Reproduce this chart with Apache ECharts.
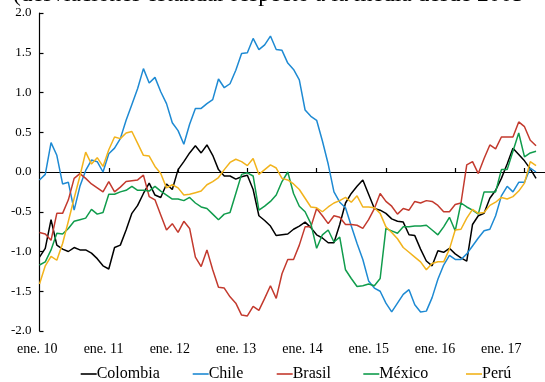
<!DOCTYPE html>
<html>
<head>
<meta charset="utf-8">
<script src="https://cdn.jsdelivr.net/npm/echarts@6/dist/echarts.min.js"></script>
<style>
  html, body { margin: 0; padding: 0; background: #fff; }
  #chart { width: 545px; height: 382px; }
</style>
</head>
<body>
<div id="chart"></div>
<script>
// Monthly indices, ene. 2010 .. mar. 2017 (87 months)
const tickLabels = ['ene. 10', 'ene. 11', 'ene. 12', 'ene. 13', 'ene. 14', 'ene. 15', 'ene. 16', 'ene. 17'];
const seriesNames = ['Colombia', 'Chile', 'Brasil', 'México', 'Perú'];

const colombia = [
  -1.07, -0.96, -0.60, -0.92, -0.97, -1.00, -0.95, -0.98, -0.98, -1.02, -1.09, -1.18,
  -1.22, -0.95, -0.92, -0.73, -0.52, -0.42, -0.27, -0.14, -0.29, -0.32, -0.15, -0.22,
  0.03, 0.13, 0.24, 0.33, 0.24, 0.34, 0.21, 0.03, -0.05, -0.05, -0.09, -0.06,
  -0.04, -0.22, -0.55, -0.61, -0.68, -0.80, -0.79, -0.78, -0.72, -0.68, -0.63, -0.70,
  -0.79, -0.83, -0.89, -0.89, -0.66, -0.39, -0.27, -0.18, -0.10, -0.28, -0.46, -0.48,
  -0.52, -0.59, -0.62, -0.63, -0.79, -0.80, -0.97, -1.12, -1.18, -0.99, -1.01, -0.96,
  -1.03, -1.08, -1.12, -0.66, -0.55, -0.52, -0.33, -0.23, -0.08, 0.10, 0.30, 0.22,
  0.14, 0.04, -0.08
];
const chile = [
  -0.10, -0.03, 0.37, 0.21, -0.15, -0.13, -0.48, -0.18, 0.02, 0.15, 0.13, 0.00,
  0.23, 0.30, 0.42, 0.65, 0.85, 1.05, 1.30, 1.12, 1.19, 1.01, 0.86, 0.62,
  0.52, 0.35, 0.60, 0.80, 0.80, 0.86, 0.91, 1.17, 1.06, 1.11, 1.28, 1.49,
  1.50, 1.68, 1.54, 1.60, 1.71, 1.54, 1.53, 1.37, 1.29, 1.16, 0.78, 0.70,
  0.65, 0.39, 0.10, -0.25, -0.38, -0.45, -0.68, -0.90, -1.10, -1.37, -1.46, -1.50,
  -1.65, -1.76, -1.65, -1.54, -1.48, -1.67, -1.76, -1.75, -1.58, -1.35, -1.17, -1.05,
  -1.10, -1.10, -1.03, -0.93, -0.83, -0.74, -0.72, -0.55, -0.30, -0.18, -0.25, -0.13,
  -0.13, 0.05, 0.00
];
const brasil = [
  -0.76, -0.78, -0.86, -0.52, -0.52, -0.35, -0.08, -0.02, -0.08, -0.15, -0.20, -0.25,
  -0.12, -0.25, -0.19, -0.12, -0.11, -0.10, -0.04, -0.31, -0.35, -0.54, -0.73, -0.65,
  -0.76, -0.62, -0.71, -1.07, -1.19, -0.98, -1.23, -1.45, -1.46, -1.57, -1.65, -1.80,
  -1.81, -1.69, -1.74, -1.59, -1.43, -1.59, -1.28, -1.10, -1.10, -0.92, -0.69, -0.69,
  -0.46, -0.55, -0.65, -0.55, -0.57, -0.66, -0.66, -0.67, -0.71, -0.60, -0.46, -0.27,
  -0.37, -0.43, -0.53, -0.46, -0.48, -0.37, -0.39, -0.36, -0.37, -0.42, -0.50, -0.50,
  -0.41, -0.39, 0.09, 0.13, -0.02, 0.17, 0.34, 0.29, 0.44, 0.44, 0.44, 0.63,
  0.57, 0.40, 0.33
];
const mexico = [
  -1.17, -1.13, -0.98, -0.77, -0.78, -0.71, -0.62, -0.60, -0.58, -0.47, -0.53, -0.51,
  -0.28, -0.28, -0.25, -0.23, -0.18, -0.23, -0.23, -0.24, -0.18, -0.24, -0.29, -0.34,
  -0.34, -0.36, -0.32, -0.39, -0.44, -0.46, -0.53, -0.60, -0.53, -0.51, -0.27, -0.03,
  -0.01, -0.05, -0.48, -0.43, -0.37, -0.29, -0.12, 0.00, -0.27, -0.43, -0.50, -0.65,
  -0.96, -0.79, -0.73, -0.88, -0.82, -1.23, -1.34, -1.44, -1.43, -1.41, -1.43, -1.34,
  -0.71, -0.74, -0.77, -0.69, -0.69, -0.68, -0.68, -0.67, -0.73, -0.79, -0.69, -0.57,
  -0.74, -0.39, -0.44, -0.48, -0.53, -0.25, -0.25, -0.25, 0.03, 0.03, 0.26, 0.49,
  0.19, 0.24, 0.26
];
const peru = [
  -1.41, -1.18, -1.06, -1.11, -0.90, -0.62, -0.33, -0.05, 0.25, 0.10, 0.18, 0.07,
  0.28, 0.44, 0.42, 0.49, 0.51, 0.36, 0.21, 0.20, 0.07, -0.02, -0.20, -0.16,
  -0.20, -0.29, -0.28, -0.26, -0.24, -0.16, -0.12, -0.07, 0.03, 0.12, 0.16, 0.13,
  0.08, 0.17, -0.03, 0.03, 0.09, 0.05, -0.08, -0.10, -0.15, -0.22, -0.33, -0.44,
  -0.45, -0.50, -0.44, -0.39, -0.36, -0.32, -0.38, -0.30, -0.44, -0.44, -0.45, -0.52,
  -0.69, -0.76, -0.84, -0.95, -1.01, -1.07, -1.13, -1.23, -1.15, -1.13, -1.13, -0.97,
  -0.73, -0.72, -0.58, -0.47, -0.52, -0.51, -0.42, -0.38, -0.32, -0.34, -0.31, -0.24,
  -0.14, 0.13, 0.08
];

const allValues = [colombia, chile, brasil, mexico, peru];
const colors = ['#000000', '#1E8AD3', '#C33A2E', '#109C4C', '#F2B31C'];

// Year ticks every 12 months; labels are spread slightly tighter than the ticks
const yearTicks = [12, 24, 36, 48, 60, 72, 84];
const labelStep = 11.48;
const labelValues = tickLabels.map((_, k) => k * labelStep);

// Left edge of each legend entry
const legendLefts = [80.7, 192.7, 276.7, 363.3, 466];

const serif = '"Liberation Serif", "Times New Roman", serif';

const chart = echarts.init(document.getElementById('chart'), null, { renderer: 'canvas' });

chart.setOption({
  animation: false,
  backgroundColor: '#ffffff',
  color: colors,
  grid: { left: 39.5, top: 13, width: 505.2, height: 318, containLabel: false },
  graphic: [{
    type: 'text',
    left: 13,
    top: -17,
    style: {
      text: '(desviaciones estándar respecto a la media desde 2003',
      font: '23.5px ' + serif,
      fill: '#000'
    }
  }],
  legend: seriesNames.map((name, s) => ({
    data: [name],
    left: legendLefts[s],
    top: 366,
    padding: 0,
    icon: 'rect',
    itemWidth: 16,
    itemHeight: 1.6,
    textStyle: { fontFamily: serif, fontSize: 16, color: '#000', padding: [0, 0, 0, -5] }
  })),
  xAxis: [
    {
      type: 'value',
      min: 0,
      max: 87.5,
      axisLine: { onZero: true, lineStyle: { color: '#000', width: 1.2 } },
      axisTick: { show: true, inside: true, length: 4, customValues: yearTicks, lineStyle: { color: '#000', width: 1.2 } },
      axisLabel: { show: false },
      splitLine: { show: false }
    },
    {
      type: 'value',
      min: 0,
      max: 87.5,
      position: 'bottom',
      axisLine: { show: false, onZero: false },
      axisTick: { show: false },
      splitLine: { show: false },
      axisLabel: {
        customValues: labelValues,
        margin: 11,
        fontFamily: serif,
        fontSize: 14,
        color: '#000',
        padding: [0, 4.4, 0, 0],
        formatter: (v) => tickLabels[Math.round(v / labelStep)]
      }
    }
  ],
  yAxis: {
    type: 'value',
    min: -2,
    max: 2,
    interval: 0.5,
    axisLine: { show: true, lineStyle: { color: '#000', width: 1.2 } },
    axisTick: { show: true, inside: true, length: 4, lineStyle: { color: '#000', width: 1.2 } },
    axisLabel: {
      margin: 8,
      fontFamily: serif,
      fontSize: 13,
      color: '#000',
      formatter: (v) => v.toFixed(1)
    },
    splitLine: { show: false }
  },
  series: seriesNames.map((name, s) => ({
    name: name,
    type: 'line',
    xAxisIndex: 0,
    showSymbol: false,
    symbol: 'none',
    lineStyle: { width: 1.5, color: colors[s] },
    itemStyle: { color: colors[s] },
    data: allValues[s].map((v, i) => [i, v])
  }))
});
</script>
</body>
</html>
